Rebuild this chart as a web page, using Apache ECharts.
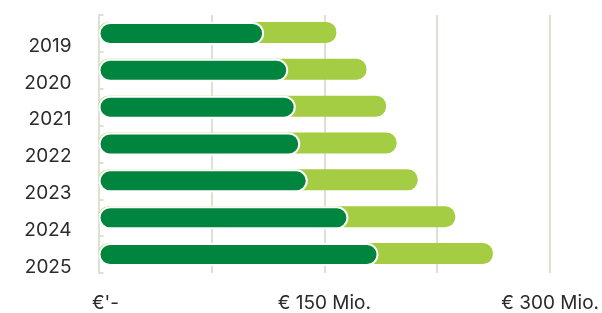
<!DOCTYPE html>
<html>
<head>
<meta charset="utf-8">
<script src="https://cdn.jsdelivr.net/npm/echarts@6/dist/echarts.min.js"></script>
<style>
  html, body { margin: 0; padding: 0; background: #fff; }
  #chart { width: 602px; height: 313px; }
</style>
</head>
<body>
<div id="chart"></div>
<script>
// Jahre und Werte (Mio. €)
const years = ["2019", "2020", "2021", "2022", "2023", "2024", "2025"];
const innerValues = [110, 126, 131, 134, 139, 166, 186];
const totalValues = [158, 178, 191, 198, 212, 237, 262];
const tickLabels = { 0: "€'-", 150: "€ 150 Mio.", 300: "€ 300 Mio." };

const chart = echarts.init(document.getElementById("chart"));

chart.setOption({
  animation: false,
  grid: { left: 98.5, right: 49, top: 15, bottom: 39 },
  xAxis: {
    type: "value",
    min: 0,
    max: 300,
    interval: 75,
    axisLine: { show: false },
    axisTick: { show: false },
    splitLine: { show: true, lineStyle: { color: "#dfe0d2", width: 2 } },
    axisLabel: {
      margin: 21,
      fontFamily: "Inter",
      fontSize: 19,
      color: "#2b2b2b",
      formatter: (v) => {
        if (v === 0) return "{first|" + tickLabels[0] + "}";
        return tickLabels[v] || "";
      },
      rich: {
        first: { fontFamily: "Inter", fontSize: 19, color: "#2b2b2b", padding: [0, 0, 0, 14] },
      },
    },
  },
  yAxis: {
    type: "category",
    data: years,
    inverse: true,
    axisLine: { show: true, lineStyle: { color: "#dfe0d2", width: 2 } },
    axisTick: { show: true, inside: true, length: 5, lineStyle: { color: "#dfe0d2", width: 2 } },
    axisLabel: {
      margin: 27,
      fontFamily: "Inter",
      fontSize: 19,
      color: "#2b2b2b",
      verticalAlign: "top",
      lineHeight: 25,
    },
  },
  series: [
    {
      name: "Gesamt",
      type: "bar",
      data: totalValues,
      barWidth: 21,
      z: 2,
      itemStyle: { color: "#a5cd43", borderRadius: 10 },
    },
    {
      name: "Anteil",
      type: "bar",
      data: innerValues,
      barWidth: 23,
      barGap: "-100%",
      z: 3,
      itemStyle: {
        color: "#00853e",
        borderRadius: 12,
        borderColor: "#ffffff",
        borderWidth: 2,
      },
    },
  ],
});
</script>
</body>
</html>
